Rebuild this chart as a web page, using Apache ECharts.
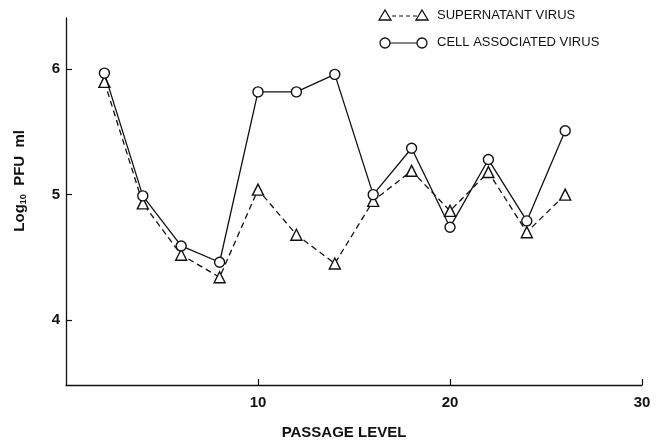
<!DOCTYPE html>
<html>
<head>
<meta charset="utf-8">
<script src="https://cdn.jsdelivr.net/npm/echarts@6/dist/echarts.min.js"></script>
<style>
html,body{margin:0;padding:0;background:#fff;}
#c{width:657px;height:445px;}
</style>
</head>
<body>
<div id="c"></div>
<script>
const passage = [2, 4, 6, 8, 10, 12, 14, 16, 18, 20, 22, 24, 26];
const supernatant = [5.90, 4.93, 4.52, 4.34, 5.04, 4.68, 4.45, 4.95, 5.19, 4.87, 5.18, 4.70, 5.00];
const cellAssociated = [5.97, 4.99, 4.59, 4.46, 5.82, 5.82, 5.96, 5.00, 5.37, 4.74, 5.28, 4.79, 5.51];
const xTicks = [10, 20, 30];
const yTicks = [4, 5, 6];
const seriesNames = ['SUPERNATANT VIRUS', 'CELL ASSOCIATED VIRUS'];

const chart = echarts.init(document.getElementById('c'), null, {renderer: 'canvas'});
const font = '"Liberation Sans", Arial, sans-serif';
const ink = '#111';

function pairs(xs, ys) { return xs.map((x, i) => [x, ys[i]]); }

const option = {
  backgroundColor: '#fff',
  animation: false,
  grid: {left: 66, right: 15, top: 18, bottom: 53},
  xAxis: {
    type: 'value', min: 0, max: 30,
    axisLine: {show: true, lineStyle: {color: ink, width: 1.3}},
    axisTick: {show: true, inside: true, length: 6, customValues: xTicks, lineStyle: {color: ink, width: 1.2}},
    axisLabel: {customValues: xTicks, color: ink, fontFamily: font, fontSize: 15, fontWeight: 'bold', margin: 10},
    splitLine: {show: false},
    name: 'PASSAGE LEVEL', nameLocation: 'middle', nameGap: 40,
    nameTextStyle: {color: ink, fontFamily: font, fontSize: 15, fontWeight: 'bold', padding: [0, 20, 0, 0]}
  },
  yAxis: {
    type: 'value', min: 3.48, max: 6.41,
    axisLine: {show: true, lineStyle: {color: ink, width: 1.3}},
    axisTick: {show: true, inside: true, length: 6, customValues: yTicks, lineStyle: {color: ink, width: 1.2}},
    axisLabel: {customValues: yTicks, color: ink, fontFamily: font, fontSize: 15, fontWeight: 'bold', margin: 6},
    splitLine: {show: false}
  },
  graphic: [
    {
      type: 'text', left: 12, top: 130, rotation: Math.PI / 2, originX: 0, originY: 0,
      style: {
        text: '{a|Log}{s|10}{a|  PFU  ml}',
        rich: {
          a: {fontFamily: font, fontSize: 15, fill: ink, fontWeight: 'bold'},
          s: {fontFamily: font, fontSize: 9, fill: ink, fontWeight: 'bold', padding: [9, 0, 0, 0]}
        }
      }
    },
    // legend row 1
    {type: 'line', shape: {x1: 385, y1: 16, x2: 422, y2: 16}, style: {stroke: ink, lineWidth: 1.2, lineDash: [4, 3]}},
    {type: 'polygon', shape: {points: [[379, 20], [391, 20], [385, 10]]}, style: {fill: '#fff', stroke: ink, lineWidth: 1.3}},
    {type: 'polygon', shape: {points: [[416, 20], [428, 20], [422, 10]]}, style: {fill: '#fff', stroke: ink, lineWidth: 1.3}},
    {type: 'text', left: 437, top: 9, style: {text: seriesNames[0], fontFamily: font, fontSize: 13, fill: ink}},
    // legend row 2
    {type: 'line', shape: {x1: 385, y1: 43, x2: 422, y2: 43}, style: {stroke: ink, lineWidth: 1.2}},
    {type: 'circle', shape: {cx: 385, cy: 43, r: 5}, style: {fill: '#fff', stroke: ink, lineWidth: 1.3}},
    {type: 'circle', shape: {cx: 422, cy: 43, r: 5}, style: {fill: '#fff', stroke: ink, lineWidth: 1.3}},
    {type: 'text', left: 437, top: 36, style: {text: seriesNames[1], fontFamily: font, fontSize: 13, fill: ink}}
  ],
  series: [
    {
      name: seriesNames[0], type: 'line', data: pairs(passage, supernatant),
      symbol: 'triangle', symbolSize: 11, z: 2,
      lineStyle: {color: ink, width: 1.3, type: [6, 4]},
      itemStyle: {color: '#fff', borderColor: ink, borderWidth: 1.4}
    },
    {
      name: seriesNames[1], type: 'line', data: pairs(passage, cellAssociated),
      symbol: 'circle', symbolSize: 10, z: 3,
      lineStyle: {color: ink, width: 1.3},
      itemStyle: {color: '#fff', borderColor: ink, borderWidth: 1.4}
    }
  ]
};
chart.setOption(option);
</script>
</body>
</html>
